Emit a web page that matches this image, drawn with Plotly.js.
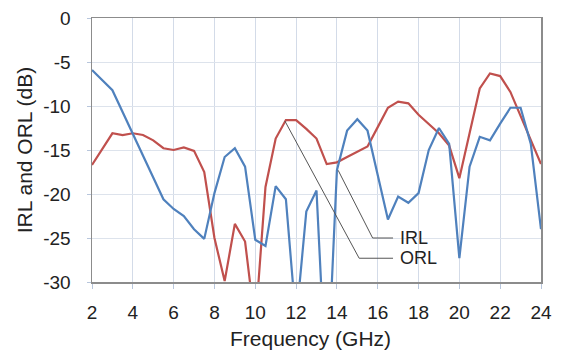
<!DOCTYPE html>
<html>
<head>
<meta charset="utf-8">
<script src="https://cdn.plot.ly/plotly-3.0.1.min.js"></script>
<style>html,body{margin:0;padding:0;background:#fff;}#chart{width:561px;height:354px;}</style>
</head>
<body>
<div id="chart"></div>
<script>
// IRL (blue) series
const irlFreq = [2, 3, 5.5, 6, 6.5, 7, 7.5, 8, 8.5, 9, 9.5, 10, 10.5, 11, 11.5, 12, 12.5, 13, 13.5, 14, 14.5, 15, 15.5, 16.5, 17, 17.5, 18, 18.5, 19, 19.5, 20, 20.5, 21, 21.5, 22, 22.5, 23, 23.5, 24];
const irlDb = [-5.9, -8.2, -20.6, -21.7, -22.5, -24.0, -25.1, -19.9, -15.8, -14.8, -16.9, -25.2, -25.9, -19.1, -20.6, -34.5, -22.0, -19.6, -43.0, -17.3, -12.8, -11.5, -12.8, -22.9, -20.3, -21.0, -19.9, -15.0, -12.5, -14.3, -27.3, -16.9, -13.5, -13.9, -12.0, -10.2, -10.2, -14.3, -24.0];
// ORL (red) series
const orlFreq = [2, 3, 3.5, 4, 4.5, 5, 5.5, 6, 6.5, 7, 7.5, 8, 8.5, 9, 9.5, 10, 10.5, 11, 11.5, 12, 12.5, 13, 13.5, 14, 14.5, 15, 15.5, 16, 16.5, 17, 17.5, 18, 18.5, 19, 19.5, 20, 20.5, 21, 21.5, 22, 22.5, 23, 23.5, 24];
const orlDb = [-16.7, -13.1, -13.3, -13.1, -13.3, -13.9, -14.8, -15.0, -14.7, -15.1, -17.5, -25.0, -29.9, -23.4, -25.4, -35.0, -19.2, -13.7, -11.6, -11.6, -12.6, -13.7, -16.6, -16.4, -15.8, -15.2, -14.6, -12.4, -10.2, -9.5, -9.7, -11.0, -12.0, -13.1, -14.5, -18.2, -13.1, -8.0, -6.3, -6.6, -8.4, -11.1, -13.9, -16.6];
// tick labels
const xTicks = [2, 4, 6, 8, 10, 12, 14, 16, 18, 20, 22, 24];
const yTicks = [0, -5, -10, -15, -20, -25, -30];
// leader lines: [start freq, start dB, bend freq, label dB, end freq]
const leaderIRL = [14.06, -17.3, 15.75, -25.0, 16.75];
const leaderORL = [11.45, -11.7, 15.09, -27.3, 16.75];

const FONT = '"Liberation Sans", Arial, sans-serif';
const traces = [
  {x: orlFreq, y: orlDb, mode: 'lines', name: 'ORL', line: {color: '#C0504D', width: 2.2}},
  {x: irlFreq, y: irlDb, mode: 'lines', name: 'IRL', line: {color: '#4F81BD', width: 2.2}}
];
function leaderPath(p) {
  return 'M ' + p[0] + ',' + p[1] + ' L ' + p[2] + ',' + p[3] + ' L ' + p[4] + ',' + p[3];
}
const layout = {
  width: 561, height: 354,
  margin: {l: 92, r: 20, t: 17.5, b: 72},
  paper_bgcolor: '#fff', plot_bgcolor: '#fff',
  showlegend: false,
  font: {family: FONT, size: 19, color: '#222'},
  xaxis: {
    range: [2, 24], tickvals: xTicks, ticktext: xTicks.map(String),
    showgrid: true, gridcolor: '#d3dbe8', gridwidth: 1,
    showline: true, linecolor: '#8c8c8c', linewidth: 1.5, mirror: true,
    ticks: 'outside', ticklen: 5, tickcolor: '#b8c6dc', ticklabelstandoff: 8,
    tickfont: {family: FONT, size: 19, color: '#222'},
    zeroline: false, fixedrange: true
  },
  yaxis: {
    range: [-30, 0], tickvals: yTicks, ticktext: yTicks.map(String),
    showgrid: true, gridcolor: '#dde3ec', gridwidth: 1,
    showline: true, linecolor: '#8c8c8c', linewidth: 1.5, mirror: true,
    ticks: 'outside', ticklen: 4, tickcolor: '#b8c6dc', ticklabelstandoff: 12,
    tickfont: {family: FONT, size: 19, color: '#222'},
    zeroline: false, fixedrange: true,
    title: {text: 'IRL and ORL (dB)', font: {family: FONT, size: 21, color: '#222'}, standoff: 5}
  },
  shapes: [
    {type: 'path', xref: 'x', yref: 'y', path: leaderPath(leaderIRL), line: {color: '#555', width: 1}},
    {type: 'path', xref: 'x', yref: 'y', path: leaderPath(leaderORL), line: {color: '#555', width: 1}}
  ],
  annotations: [
    {x: 0.5, y: 0, xref: 'paper', yref: 'paper', text: 'Frequency (GHz)', showarrow: false, xanchor: 'center', yanchor: 'middle', xshift: -6, yshift: -56.5, font: {family: FONT, size: 21, color: '#222'}},
    {x: leaderIRL[4], y: leaderIRL[3], xref: 'x', yref: 'y', text: 'IRL', showarrow: false, xanchor: 'left', xshift: 5, font: {family: FONT, size: 18, color: '#222'}},
    {x: leaderORL[4], y: leaderORL[3], xref: 'x', yref: 'y', text: 'ORL', showarrow: false, xanchor: 'left', xshift: 5, font: {family: FONT, size: 18, color: '#222'}}
  ]
};
Plotly.newPlot('chart', traces, layout, {staticPlot: true, displayModeBar: false});
</script>
</body>
</html>
